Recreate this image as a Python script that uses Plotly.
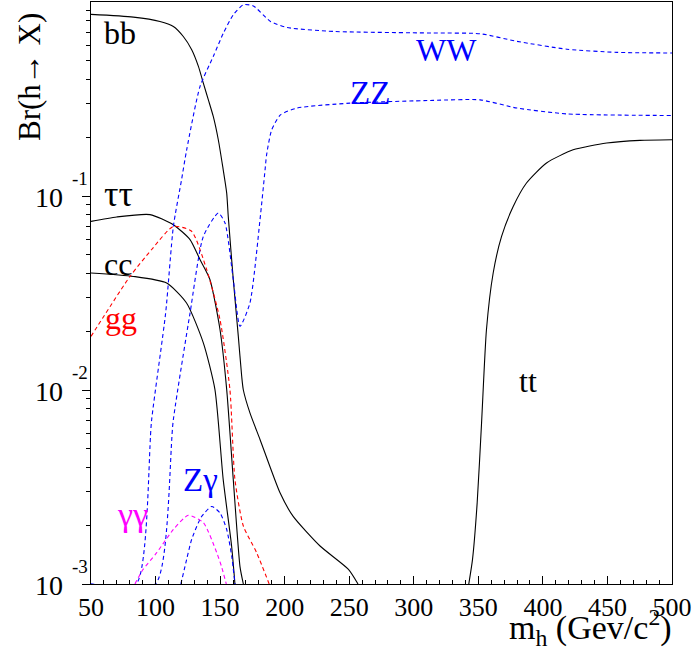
import math
import plotly.graph_objects as go

# ---------------- data ----------------
m_bb = [50, 82.8, 103.4, 113.8, 121.5, 128, 133.2, 137, 140.9, 144.7, 148.6, 152, 155.1, 156.3,
        160.2, 164.1, 166.7, 168, 173.1, 180.9, 196.4, 206.6, 227.4, 249.4, 256.8]
br_bb = [0.863, 0.836, 0.794, 0.748, 0.664, 0.568, 0.466, 0.382, 0.313, 0.257, 0.195, 0.142, 0.1035, 0.0785,
         0.0371, 0.0189, 0.0118, 0.0100, 0.00762, 0.00556, 0.00295, 0.00223, 0.00157, 0.00119, 0.001]

m_tautau = [50, 69.9, 95.7, 113.8, 126.7, 134.4, 142.1, 149.9, 155.1, 160.2, 165.4, 168]
br_tautau = [0.0740, 0.078, 0.0802, 0.0711, 0.0596, 0.047, 0.0371, 0.0205, 0.01005, 0.00345, 0.00123, 0.001]

m_cc = [50, 82.8, 108.6, 124, 137, 146, 152.4, 158.9, 161.5]
br_cc = [0.0401, 0.0385, 0.0356, 0.0281, 0.0175, 0.01005, 0.00345, 0.00157, 0.001]

m_gg = [50, 80.2, 97, 113.8, 127.9, 139.6, 149.9, 157.6, 161.5, 168, 178.3, 188]
br_gg = [0.0189, 0.0385, 0.053, 0.0697, 0.0658, 0.0417, 0.0231, 0.01005, 0.00345, 0.00199, 0.00145, 0.001]

m_ww = [50, 84.9, 97, 107.8, 113.8, 120.1, 124.1, 134.4, 144.7, 152.5, 160.2, 168, 175.7, 189, 201.9,
        238, 315, 351.5, 379.9, 418.6, 457.4, 500]
br_ww = [0.001, 0.001, 0.00705, 0.0249, 0.0697, 0.121, 0.173, 0.366, 0.524, 0.69, 0.859, 0.968, 0.955, 0.794, 0.739,
         0.705, 0.692, 0.686, 0.627, 0.571, 0.550, 0.546]

m_zz = [50, 99.8, 113.8, 126.7, 137, 148.6, 153.8, 160.2, 165.4, 173.1, 180.9, 184.8, 186, 189.9, 196.7,
        209.6, 250.6, 315, 351.3, 379.9, 418.6, 500]
br_zz = [0.001, 0.001, 0.00705, 0.0249, 0.0619, 0.0817, 0.0726, 0.0371, 0.0213, 0.0281, 0.0755, 0.136, 0.163, 0.219, 0.262,
         0.284, 0.301, 0.311, 0.313, 0.284, 0.265, 0.260]

m_zgam = [119.6, 124.1, 128, 135.5, 143.5, 150, 155.1, 159, 161.5]
br_zgam = [0.001, 0.00134, 0.0017, 0.00222, 0.00251, 0.00232, 0.00191, 0.00139, 0.001]

m_gamgam = [84, 90, 100.9, 113.8, 125.4, 137.1, 147.4, 151.1, 154.8]
br_gamgam = [0.001, 0.00118, 0.00145, 0.00191, 0.00226, 0.00207, 0.00145, 0.00123, 0.001]

m_tt = [342.6, 345.5, 349.1, 352.5, 356.3, 361.5, 368, 377, 387.3, 402.8, 423.4, 449.4, 475.2, 500]
br_tt = [0.001, 0.00134, 0.00262, 0.00676, 0.0205, 0.0401, 0.0619, 0.0883, 0.1167, 0.148, 0.173, 0.1875, 0.1936, 0.195]

x_ticks = [50, 100, 150, 200, 250, 300, 350, 400, 450, 500]
y_ticks = [0.001, 0.01, 0.1]
y_tick_base = "10"
y_tick_exp = ["-3", "-2", "-1"]

labels = [  # text, colour, centre px x, centre px y, size
    ("bb", "black", 120, 33, 32),
    ("\u03c4\u03c4", "black", 118, 194, 36),
    ("cc", "black", 118, 264, 32),
    ("gg", "red", 121, 318, 32),
    ("\u03b3\u03b3", "magenta", 132, 514, 34),
    ("Z\u03b3", "blue", 200, 480, 33),
    ("WW", "blue", 446, 50, 32),
    ("ZZ", "blue", 370, 93, 33),
    ("tt", "black", 528, 381, 32),
]

# ---------------- figure ----------------
FONT = "Liberation Serif, Times New Roman, serif"
L, R, T, B = 91, 672, 2, 584
W, H = 696, 652

fig = go.Figure()
solid = dict(color="black", width=1.1)
def dashed(c):
    return dict(color=c, width=1.1, dash="4px,3px")

series = [
    (m_bb, br_bb, solid),
    (m_tautau, br_tautau, solid),
    (m_cc, br_cc, solid),
    (m_tt, br_tt, solid),
    (m_gg, br_gg, dashed("red")),
    (m_ww, br_ww, dashed("blue")),
    (m_zz, br_zz, dashed("blue")),
    (m_zgam, br_zgam, dashed("blue")),
    (m_gamgam, br_gamgam, dashed("magenta")),
]
for xs, ys, ln in series:
    fig.add_trace(go.Scatter(x=xs, y=ys, mode="lines", line=dict(**ln, shape="spline", smoothing=0.6),
                             hoverinfo="skip", showlegend=False))

def px_x(px):
    return (px - L) / (R - L)

def px_y(py):
    return (B - py) / (B - T)

for txt, col, px, py, sz in labels:
    fig.add_annotation(x=px_x(px), y=px_y(py), xref="paper", yref="paper",
                       text=txt, showarrow=False, font=dict(family=FONT, size=sz, color=col),
                       xanchor="center", yanchor="middle")

# y tick labels in ROOT style: "10" with a detached exponent
for v, e in zip(y_ticks, y_tick_exp):
    fig.add_annotation(x=px_x(48.5), y=math.log10(v), xref="paper", yref="y", text=y_tick_base,
                       showarrow=False, font=dict(family=FONT, size=28, color="black"),
                       xanchor="center", yanchor="middle", yshift=-1)
    fig.add_annotation(x=px_x(80), y=math.log10(v), xref="paper", yref="y", text=e,
                       showarrow=False, font=dict(family=FONT, size=19, color="black"),
                       xanchor="center", yanchor="middle", yshift=18)

# axis titles
fig.add_annotation(x=px_x(30), y=px_y(77), xref="paper", yref="paper",
                   text="Br(h\u2192 X)", textangle=-90, showarrow=False,
                   font=dict(family=FONT, size=31, color="black"), xanchor="center", yanchor="middle")
fig.add_annotation(x=px_x(507), y=px_y(627), xref="paper", yref="paper",
                   text="m<sub>h</sub> (Gev/c<sup>2</sup>)", showarrow=False,
                   font=dict(family=FONT, size=34, color="black"), xanchor="left", yanchor="middle")

minor_y = [k * 10 ** e for e in (-3, -2, -1) for k in range(2, 10)]

fig.update_xaxes(range=[50, 500], tickvals=x_ticks, ticks="inside", ticklen=8, tickcolor="black",
                 showline=True, linecolor="black", linewidth=1, mirror=True, showgrid=False, zeroline=False,
                 tickfont=dict(family=FONT, size=26, color="black"),
                 minor=dict(dtick=10, ticks="inside", ticklen=4, tickcolor="black", showgrid=False))
fig.update_yaxes(type="log", range=[-3, 0], tickvals=y_ticks, showticklabels=False, ticks="outside", ticklen=8,
                 tickcolor="black", showline=True, linecolor="black", linewidth=1, mirror=True, showgrid=False,
                 zeroline=False,
                 minor=dict(tickmode="array", tickvals=minor_y, ticks="outside", ticklen=4, tickcolor="black",
                            showgrid=False))

fig.update_layout(width=W, height=H, margin=dict(l=L, r=W - R, t=T, b=H - B),
                  plot_bgcolor="white", paper_bgcolor="white")

fig.write_html("out.html")
